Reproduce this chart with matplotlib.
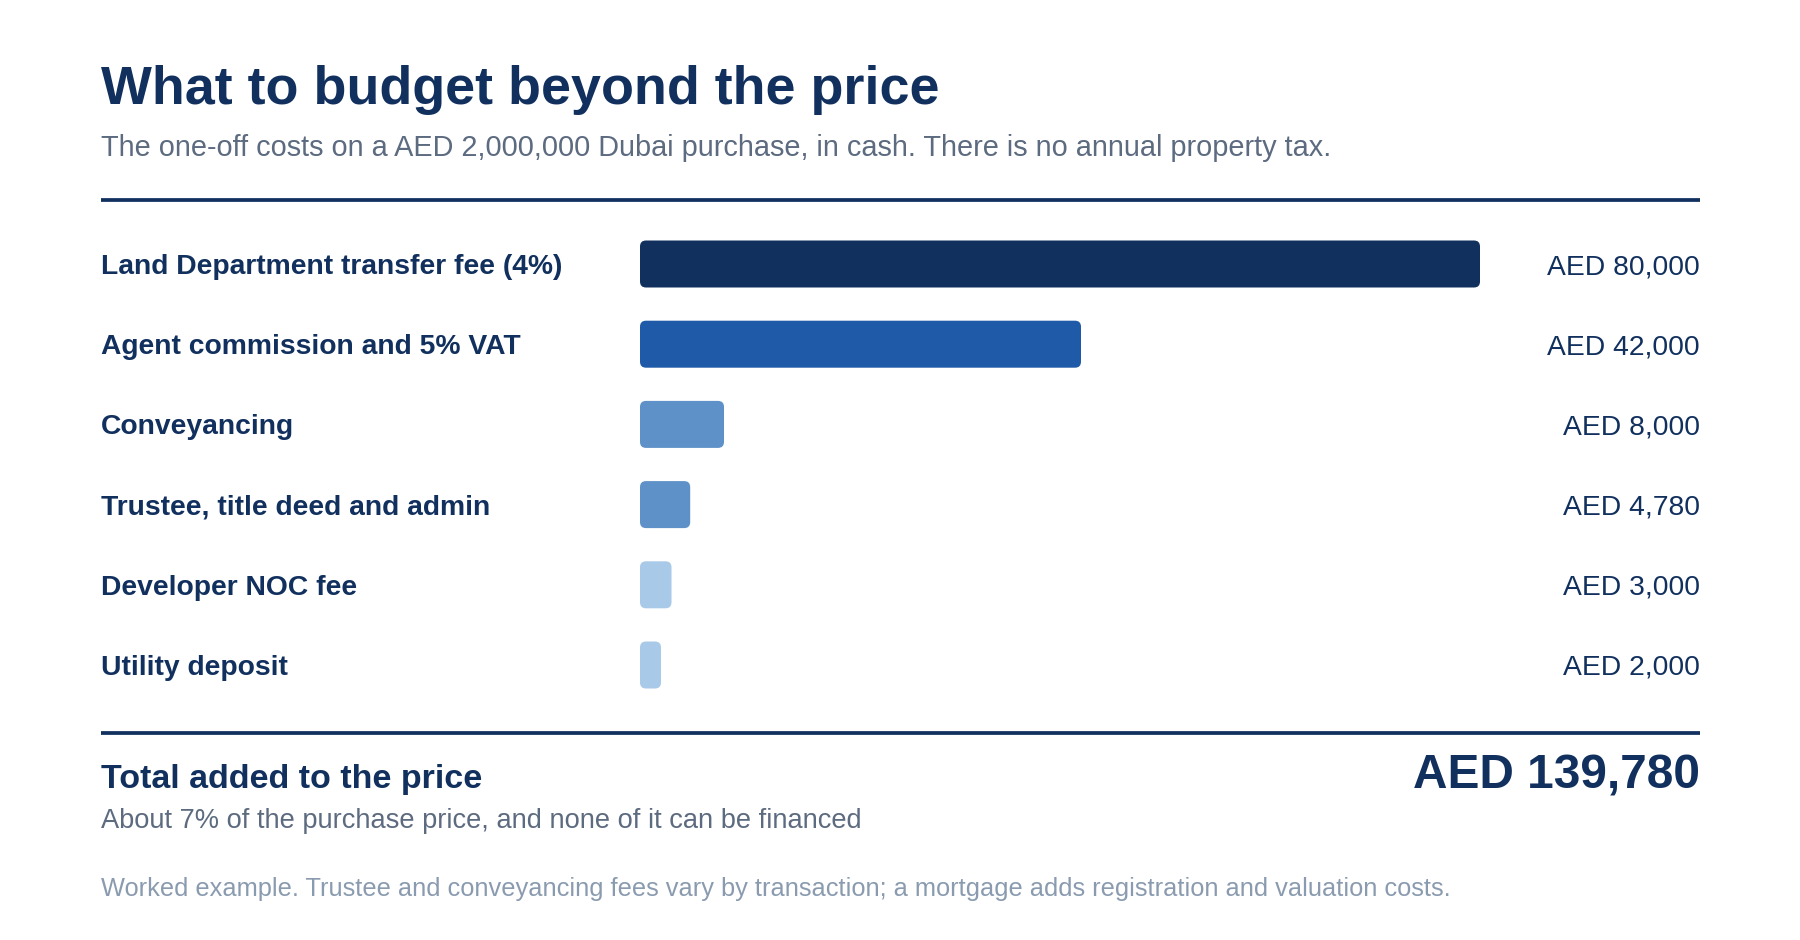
import matplotlib
matplotlib.use("Agg")
import matplotlib.pyplot as plt
from matplotlib.patches import FancyBboxPatch
from matplotlib.transforms import blended_transform_factory

plt.rcParams['font.family'] = ['Liberation Sans', 'DejaVu Sans']

title = "What to budget beyond the price"
subtitle = "The one-off costs on a AED 2,000,000 Dubai purchase, in cash. There is no annual property tax."
items = ["Land Department transfer fee (4%)", "Agent commission and 5% VAT", "Conveyancing",
         "Trustee, title deed and admin", "Developer NOC fee", "Utility deposit"]
costs = [80000, 42000, 8000, 4780, 3000, 2000]
bar_colors = ["#11305e", "#1f5aa8", "#5d91c7", "#5d91c7", "#a9c9e8", "#a9c9e8"]
total_label = "Total added to the price"
total_note = "About 7% of the purchase price, and none of it can be financed"
footnote = "Worked example. Trustee and conveyancing fees vary by transaction; a mortgage adds registration and valuation costs."

NAVY = "#11305e"
GREY = "#5d6b80"
LIGHT = "#8a9bb0"

W, H = 1800, 940
fig = plt.figure(figsize=(W / 100, H / 100), dpi=100)
fig.patch.set_facecolor("white")


def fx(x):
    return x / W


def fy(y):
    return 1 - y / H


LEFT, RIGHT = 101, 1700

fig.text(fx(LEFT), fy(104), title, fontsize=38.8, fontweight="bold", color=NAVY, va="baseline")
fig.text(fx(LEFT), fy(156), subtitle, fontsize=20.8, color=GREY, va="baseline")

for y in (200, 733):
    fig.add_artist(plt.Line2D([fx(LEFT), fx(RIGHT)], [fy(y), fy(y)], color=NAVY, lw=2.7,
                              solid_capstyle="butt"))

# bar area
bx0, bx1 = 640, 1480
row0, step = 264, 80.2
n = len(items)
top = row0 - step / 2
bottom = top + step * n
ax = fig.add_axes([fx(bx0), fy(bottom), (bx1 - bx0) / W, (bottom - top) / H])
ax.set_xlim(0, max(costs))
ax.set_ylim(n - 0.5, -0.5)
ax.axis("off")

bar_h = 47 / step
radius_px = 6
ux = radius_px * max(costs) / (bx1 - bx0)
uy = radius_px / step
for i, (v, c) in enumerate(zip(costs, bar_colors)):
    p = FancyBboxPatch((0, i - bar_h / 2), v, bar_h,
                       boxstyle=f"round,pad=0,rounding_size={ux}",
                       mutation_aspect=uy / ux, fc=c, ec="none", clip_on=False)
    ax.add_patch(p)

tr = blended_transform_factory(fig.transFigure, ax.transData)
for i, (lab, v) in enumerate(zip(items, costs)):
    ax.text(fx(LEFT), i, lab, transform=tr, fontsize=20.3, fontweight="bold", color=NAVY,
            va="center_baseline", ha="left")
    ax.text(fx(RIGHT), i, f"AED {v:,}", transform=tr, fontsize=20.3, color=NAVY,
            va="center_baseline", ha="right")

fig.text(fx(LEFT), fy(788), total_label, fontsize=24.5, fontweight="bold", color=NAVY, va="baseline")
fig.text(fx(RIGHT), fy(788), f"AED {sum(costs):,}", fontsize=34.4, fontweight="bold", color=NAVY,
         va="baseline", ha="right")
fig.text(fx(LEFT), fy(828), total_note, fontsize=19.6, color=GREY, va="baseline")
fig.text(fx(LEFT), fy(896), footnote, fontsize=18.3, color=LIGHT, va="baseline")

fig.savefig("out.png", dpi=100, facecolor="white")
